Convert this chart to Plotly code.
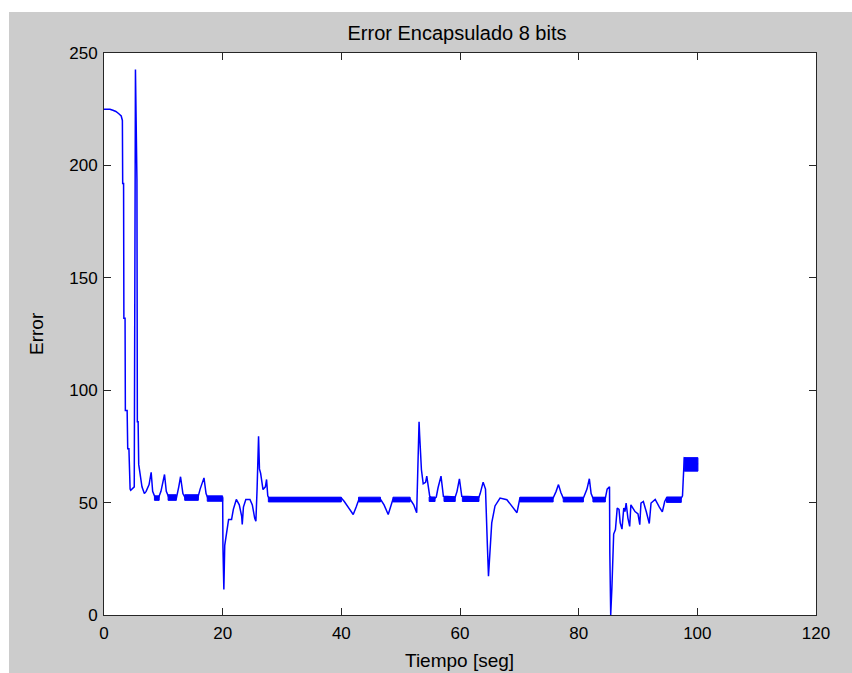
import plotly.graph_objects as go

# Error signal (time in seconds, error value)
t_pts = [0, 1.0, 1.5, 2.0, 2.5, 2.9, 3.1, 3.15, 3.3, 3.35, 3.55, 3.6, 3.9, 4.0, 4.2, 4.3, 4.4, 4.5, 5.1,
         5.3, 5.45, 5.55, 5.62, 5.75, 5.85, 6.1, 6.4, 6.8, 7.1, 7.6, 7.95, 8.2, 8.5,
         9.1, 9.6, 10.2, 10.5, 10.9, 12.2, 12.6, 12.9, 13.3, 13.7, 15.8, 16.2, 16.85,
         17.2, 17.5, 20.0, 20.05, 20.2, 20.35, 20.6, 21.0, 21.5, 21.8, 22.3, 22.8,
         23.2, 23.3, 23.5, 23.9, 24.6, 25.0, 25.4, 25.6, 25.8, 26.05, 26.2, 26.4,
         26.8, 27.2, 27.4, 27.6, 27.8, 40.0, 40.5, 41.2, 42.0, 42.5, 42.9, 46.6,
         47.2, 47.9, 48.3, 48.7, 51.6, 52.2, 52.7, 52.9, 53.1, 53.2, 53.4, 53.5,
         53.8, 54.2, 54.4, 54.7, 54.9, 55.5, 56.0, 56.3, 56.8, 57.2, 59.2, 59.5,
         59.9, 60.3, 63.2, 63.4, 63.9, 64.3, 64.4, 64.6, 64.8, 64.95, 65.1, 65.35,
         65.9, 66.75, 67.9, 68.8, 69.6, 70.1, 75.7, 76.2, 76.6, 77.0, 77.4, 80.8,
         81.4, 81.8, 82.1, 82.4, 84.5, 84.8, 85.2, 85.25, 85.4, 85.6, 85.75, 85.9,
         86.2, 86.5, 86.8, 87.0, 87.3, 87.6, 87.8, 88.0, 88.3, 88.6, 88.8, 89.1,
         89.5, 90.0, 90.3, 90.5, 90.9, 91.4, 91.9, 92.2, 92.9, 93.6, 94.1, 94.5,
         94.8, 97.3, 97.5, 97.6, 97.7, 97.8, 100.1]
e_pts = [225, 225, 224.5, 224, 223, 222, 220, 192, 192, 132, 132, 91, 91, 74, 74, 60, 56, 55.5, 57,
         242.7, 194, 194, 86, 86, 67, 62, 57, 54, 55, 58, 63.5, 55, 53,
         51.5, 55, 62.5, 55, 52.5, 52, 57, 61.5, 54, 52, 52, 56, 61,
         54, 52, 52, 30, 11.3, 31, 35, 42.5, 42.5, 47, 51.4, 49,
         44, 40.3, 48, 51.4, 51.4, 49, 43, 41.7, 56, 79.5, 65, 63,
         55.8, 57, 60.3, 53, 52, 52, 50.5, 48, 44.7, 48, 51, 51.5,
         49, 44.7, 48.5, 51.5, 51.5, 49, 45.5, 69, 86, 80, 66, 64.6,
         58.4, 59, 61.8, 56, 52.8, 51.4, 52.5, 56.6, 61.8, 52.8, 52.5, 55,
         60.6, 52.8, 52.5, 54, 59.1, 56, 50, 32, 17.3, 24.7, 31, 41,
         48.5, 52, 51.3, 48.5, 45.5, 52, 52, 55, 58, 54.5, 52, 52,
         56, 60.6, 54, 52, 52, 56, 57, 27.8, 0, 12, 27, 36,
         38, 47.6, 47, 41, 38.2, 47.6, 46, 49.8, 43.1, 39.4, 49, 47.6,
         46, 45, 40.2, 49.8, 50.5, 45.9, 40.7, 49.8, 51.4, 48, 45.9, 50.5,
         52, 52, 53, 58.8, 64, 69.9, 67]

# Intervals where the quantised error toggles quickly between two levels
band_t0 = [8.5, 10.8, 13.6, 17.4, 27.7, 42.9, 48.7, 54.8, 57.3, 60.4, 70.1, 77.4, 82.4, 94.8, 97.8]
band_t1 = [9.3, 12.2, 15.9, 20.0, 40.0, 46.6, 51.6, 55.8, 59.2, 63.2, 75.7, 80.8, 84.5, 97.3, 100.1]
band_lo = [51, 51, 51, 50.6, 50.3, 50.3, 50.3, 50.5, 50.5, 50.5, 50.3, 50.3, 50.3, 50.1, 64]
band_hi = [53, 53.5, 53.5, 53, 52.4, 52.4, 52.4, 52.5, 52.5, 52.5, 52.4, 52.4, 52.4, 52.5, 70]

x_ticks = [0, 20, 40, 60, 80, 100, 120]
y_ticks = [0, 50, 100, 150, 200, 250]

BLUE = "#0000ff"
FONT = "Liberation Sans Narrow, Arial Narrow, Liberation Sans, Arial, sans-serif"

bx, by = [], []
for a, b, lo, hi in zip(band_t0, band_t1, band_lo, band_hi):
    bx += [a, b, b, a, a, None]
    by += [lo, lo, hi, hi, lo, None]

fig = go.Figure()
fig.add_trace(go.Scatter(x=bx, y=by, mode="lines", fill="toself",
                         fillcolor=BLUE, line=dict(color=BLUE, width=1),
                         hoverinfo="skip", showlegend=False))
fig.add_trace(go.Scatter(x=t_pts, y=e_pts, mode="lines",
                         line=dict(color=BLUE, width=1.5, shape="linear"),
                         showlegend=False))

axis_common = dict(showline=True, mirror="ticks", linecolor="#262626", linewidth=1,
                   ticks="inside", ticklen=7, tickwidth=1, tickcolor="#262626",
                   showgrid=False, zeroline=False,
                   tickfont=dict(family=FONT, size=17, color="#000000"))

fig.update_xaxes(range=[0, 120], tickvals=x_ticks, ticklabelstandoff=3, **axis_common)
fig.update_yaxes(range=[0, 250], tickvals=y_ticks, ticklabelstandoff=2, **axis_common)

W, H = 852, 673
L, R, T, B = 104, 36, 53, 58
pw, ph = W - L - R, H - T - B

def px_x(p):
    return (p - L) / pw

def px_y(p):
    return (H - B - p) / ph

fig.update_layout(
    width=W, height=H,
    margin=dict(l=L, r=R, t=T, b=B, pad=0),
    paper_bgcolor="#cccccc",
    plot_bgcolor="#ffffff",
    title=dict(text="Error Encapsulado 8 bits", x=px_x(457), xref="paper",
               y=1 - 33 / H, yref="container", xanchor="center", yanchor="middle",
               font=dict(family=FONT, size=20, color="#000000")),
    shapes=[
        dict(type="rect", xref="paper", yref="paper", layer="below",
             x0=px_x(0), x1=px_x(W), y0=px_y(0), y1=px_y(12),
             fillcolor="#ffffff", line=dict(width=0)),
        dict(type="rect", xref="paper", yref="paper", layer="below",
             x0=px_x(0), x1=px_x(9), y0=px_y(H), y1=px_y(0),
             fillcolor="#ffffff", line=dict(width=0)),
    ],
    annotations=[
        dict(text="Tiempo [seg]", xref="paper", yref="paper", x=px_x(459), y=px_y(660),
             xanchor="center", yanchor="middle", showarrow=False,
             font=dict(family=FONT, size=19, color="#000000")),
        dict(text="Error", xref="paper", yref="paper", x=px_x(36), y=px_y(334),
             xanchor="center", yanchor="middle", showarrow=False, textangle=-90,
             font=dict(family=FONT, size=19, color="#000000")),
    ],
)

fig.write_html("out.html")
